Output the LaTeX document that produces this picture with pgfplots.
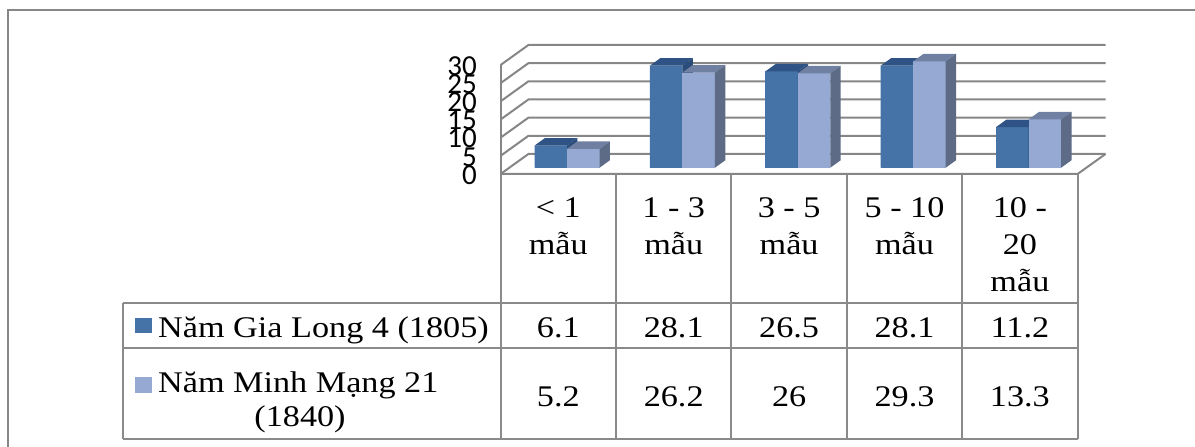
\documentclass[border=0pt]{standalone}
\usepackage{fontspec}
\usepackage{pgfplots}
\pgfplotsset{compat=1.18}
\usepackage{pgfplotstable}
\setmainfont{Liberation Serif}[FakeStretch=1.14]
\newfontfamily\tickfont{Carlito}

\definecolor{dfront}{RGB}{69,114,167}
\definecolor{dtop}{RGB}{46,83,132}
\definecolor{dside}{RGB}{42,76,120}
\definecolor{lfront}{RGB}{149,169,210}
\definecolor{ltop}{RGB}{112,128,162}
\definecolor{lside}{RGB}{93,107,135}
\definecolor{gridcol}{RGB}{134,134,134}
\definecolor{tablecol}{RGB}{138,138,138}
\definecolor{framecol}{RGB}{135,135,135}

\pgfplotstableread{
cat gl mm
0 6.1 5.2
1 28.1 26.2
2 26.5 26
3 28.1 29.3
4 11.2 13.3
}\datatable

% front, top and side faces of a bar, anchored at the middle of its top front edge
\def\barfaces#1#2#3{%
  \pgfpathmoveto{\pgfqpoint{-16.25pt}{0pt}}%
  \pgfpathlineto{\pgfqpoint{16.25pt}{0pt}}%
  \pgfpathlineto{\pgfpoint{16.25pt}{-\barval*3.6333pt}}%
  \pgfpathlineto{\pgfpoint{-16.25pt}{-\barval*3.6333pt}}%
  \pgfpathclose
  \pgfsetfillcolor{#1}\pgfusepath{fill}%
  \pgfpathmoveto{\pgfqpoint{-16.25pt}{0pt}}%
  \pgfpathlineto{\pgfqpoint{16.25pt}{0pt}}%
  \pgfpathlineto{\pgfqpoint{26.65pt}{7.5pt}}%
  \pgfpathlineto{\pgfqpoint{-5.85pt}{7.5pt}}%
  \pgfpathclose
  \pgfsetfillcolor{#2}\pgfusepath{fill}%
  \pgfpathmoveto{\pgfqpoint{16.25pt}{0pt}}%
  \pgfpathlineto{\pgfqpoint{26.65pt}{7.5pt}}%
  \pgfpathlineto{\pgfpoint{26.65pt}{7.5pt-\barval*3.6333pt}}%
  \pgfpathlineto{\pgfpoint{16.25pt}{-\barval*3.6333pt}}%
  \pgfpathclose
  \pgfsetfillcolor{#3}\pgfusepath{fill}%
}
\pgfdeclareplotmark{bardark}{\barfaces{dfront}{dtop}{dside}}
\pgfdeclareplotmark{barlight}{\barfaces{lfront}{ltop}{lside}}

\begin{document}
\begin{tikzpicture}[x=1pt,y=1pt]
\path[use as bounding box] (0,0) rectangle (1195,447);
\begin{scope}[yshift=447pt, yscale=-1]
% outer chart frame
\draw[framecol, line width=1.6pt] (8,447) -- (8,10) -- (1195,10);
% walls and gridlines
\foreach \v in {0,5,...,30} {
  \draw[gridcol, line width=2pt] (500.6,{174-3.6333*\v}) -- (528.4,{154-3.6333*\v}) -- (1105.5,{154-3.6333*\v});
}
\draw[gridcol, line width=2pt] (500.6,174) -- (500.6,65);
\draw[gridcol, line width=2pt] (500.6,174) -- (1077.6,174) -- (1105.5,154);
\end{scope}

\begin{axis}[
  at={(509.3pt,279.25pt)}, anchor=south west,
  scale only axis, width=577pt, height=109pt,
  xmin=-0.5, xmax=4.5, ymin=0, ymax=30,
  axis line style={draw=none},
  xtick=\empty, ytick={0,5,10,15,20,25,30},
  yticklabels={0,5,10,15,20,25,30},
  major tick length=0pt,
  yticklabel style={font=\tickfont\fontsize{29}{29}\selectfont, anchor=east, inner sep=0pt, xshift=-32.3pt, yshift=-7.25pt},
  clip=false,
]
\addplot[ybar, bar width=0.2816, bar shift=-0.1408, fill=dfront, draw=none] table[x=cat, y=gl]{\datatable};
\addplot[ybar, bar width=0.2816, bar shift=0.1408, fill=lfront, draw=none] table[x=cat, y=mm]{\datatable};
\addplot[only marks, mark=bardark, visualization depends on=rawy\as\barval] table[x expr=\thisrow{cat}-0.1408, y=gl]{\datatable};
\addplot[only marks, mark=barlight, visualization depends on=rawy\as\barval] table[x expr=\thisrow{cat}+0.1408, y=mm]{\datatable};
\end{axis}

\begin{scope}[yshift=447pt, yscale=-1]
% data table
\begin{scope}[tablecol, line width=2pt]
\draw (500.6,174) -- (500.6,439);
\foreach \x in {616,731.4,846.8,962.2,1077.6} \draw (\x,174) -- (\x,439);
\draw (122.7,303) -- (1077.6,303);
\draw (122.7,348) -- (1077.6,348);
\draw (122.7,439) -- (1077.6,439);
\draw (122.7,303) -- (122.7,439);
\end{scope}

\begin{scope}[every node/.style={font=\fontsize{30}{36}\selectfont, inner sep=0pt, text=black}]
\node[anchor=base] at (558.3,218) {< 1};
\node[anchor=base] at (558.3,255) {mẫu};
\node[anchor=base] at (673.7,218) {1 - 3};
\node[anchor=base] at (673.7,255) {mẫu};
\node[anchor=base] at (789.1,218) {3 - 5};
\node[anchor=base] at (789.1,255) {mẫu};
\node[anchor=base] at (904.5,218) {5 - 10};
\node[anchor=base] at (904.5,255) {mẫu};
\node[anchor=base] at (1019.9,218) {10 -};
\node[anchor=base] at (1019.9,255) {20};
\node[anchor=base] at (1019.9,292) {mẫu};

\fill[dfront] (135,317.7) rectangle (151.7,333.3);
\node[anchor=base west] at (158,338) {Năm Gia Long 4 (1805)};
\fill[lfront] (135,377) rectangle (151.7,393);
\node[anchor=base west] at (158,393) {Năm Minh Mạng 21};
\node[anchor=base] at (300,427) {(1840)};

\node[anchor=base] at (558.3,338) {6.1};
\node[anchor=base] at (673.7,338) {28.1};
\node[anchor=base] at (789.1,338) {26.5};
\node[anchor=base] at (904.5,338) {28.1};
\node[anchor=base] at (1019.9,338) {11.2};
\node[anchor=base] at (558.3,407) {5.2};
\node[anchor=base] at (673.7,407) {26.2};
\node[anchor=base] at (789.1,407) {26};
\node[anchor=base] at (904.5,407) {29.3};
\node[anchor=base] at (1019.9,407) {13.3};
\end{scope}
\end{scope}
\end{tikzpicture}
\end{document}
